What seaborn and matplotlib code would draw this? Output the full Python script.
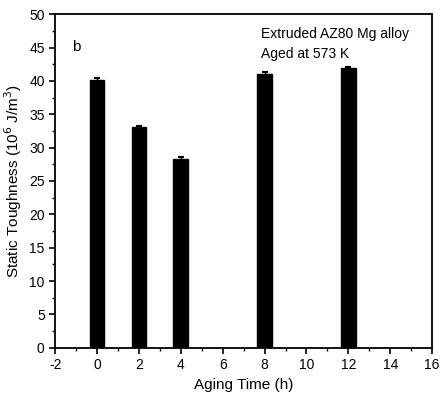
import numpy as np
import pandas as pd
import seaborn as sns
from matplotlib import pyplot as plt
from matplotlib.ticker import MultipleLocator

# data
aging_time = [0, 2, 4, 8, 12]
toughness = [40.1, 33.1, 28.3, 41.1, 41.9]
toughness_err = [0.4, 0.2, 0.3, 0.2, 0.2]

sns.set_style('ticks')
plt.rcParams['font.family'] = ['Liberation Sans', 'DejaVu Sans']
plt.rcParams['axes.unicode_minus'] = False
plt.rcParams['text.color'] = 'black'
plt.rcParams['axes.labelcolor'] = 'black'
plt.rcParams['xtick.color'] = 'black'
plt.rcParams['ytick.color'] = 'black'

df = pd.DataFrame({'time': aging_time, 'tough': toughness})

fig = plt.figure(figsize=(4.41, 4.04), dpi=100)
ax = fig.add_axes([0.125, 0.139, 0.855, 0.826])

sns.barplot(data=df, x='time', y='tough', native_scale=True, width=0.35,
            color='black', edgecolor='black', saturation=1, errorbar=None, ax=ax)
ax.errorbar(aging_time, toughness, yerr=toughness_err, fmt='none',
            ecolor='black', elinewidth=1, capsize=2.5, capthick=1.5)

ax.set_xlim(-2, 16)
ax.set_ylim(0, 50)
ax.xaxis.set_major_locator(MultipleLocator(2))
ax.xaxis.set_minor_locator(MultipleLocator(1))
ax.yaxis.set_major_locator(MultipleLocator(5))
ax.yaxis.set_minor_locator(MultipleLocator(2.5))
ax.tick_params(which='major', direction='out', length=4, width=1.2, labelsize=10)
ax.tick_params(which='minor', direction='out', length=2, width=1)
for s in ax.spines.values():
    s.set_linewidth(1.3)
    s.set_color('black')
    s.set_visible(True)

ax.set_xlabel('Aging Time (h)', fontsize=11)
ax.set_ylabel('Static Toughness (10$^6$ J/m$^3$)', fontsize=11)

ax.text(-1.2, 44.5, 'b', fontsize=11)
ax.text(7.85, 46.4, 'Extruded AZ80 Mg alloy', fontsize=10)
ax.text(7.85, 43.5, 'Aged at 573 K', fontsize=10)

fig.savefig('out.png', dpi=100)
